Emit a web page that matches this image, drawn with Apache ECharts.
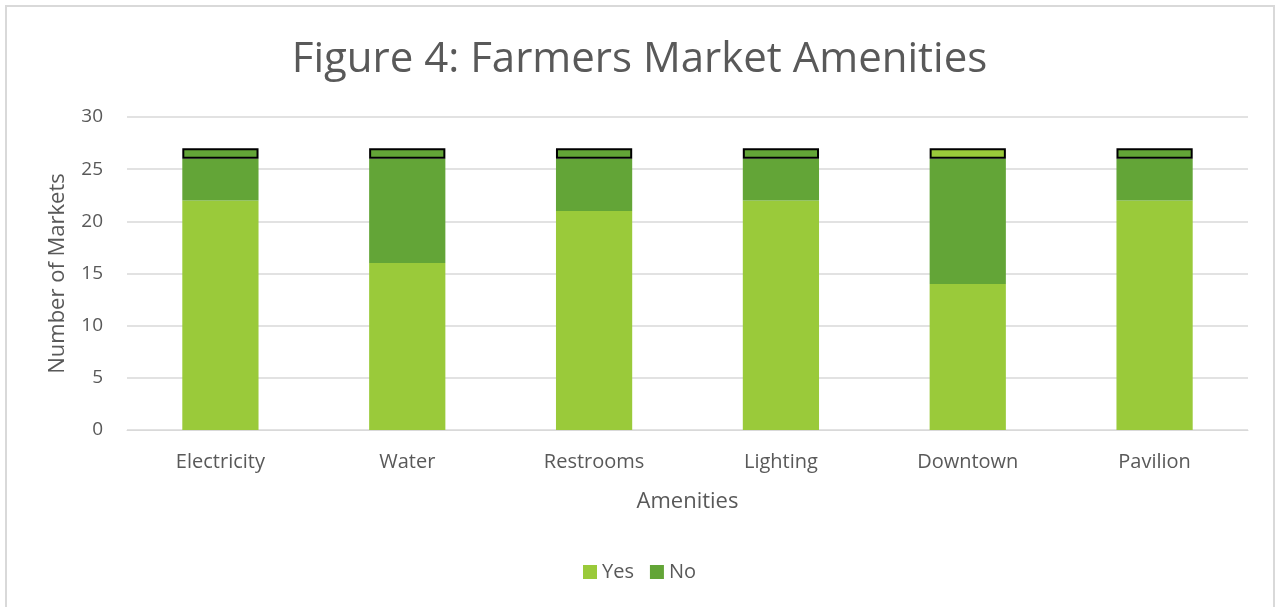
<!DOCTYPE html>
<html>
<head>
<meta charset="utf-8">
<script src="https://cdn.jsdelivr.net/npm/echarts@6/dist/echarts.min.js"></script>
<style>
  html, body { margin: 0; padding: 0; background: #fff; }
  #frame { position: absolute; left: 5px; top: 5px; width: 1270px; height: 620px;
           border: 2px solid #d9d9d9; box-sizing: border-box; }
  #chart { position: absolute; left: 0; top: 0; width: 1279px; height: 607px; }
</style>
</head>
<body>
<div id="frame"></div>
<div id="chart"></div>
<script>
// Amenity survey results (number of markets)
const categories = ['Electricity', 'Water', 'Restrooms', 'Lighting', 'Downtown', 'Pavilion'];
const yesValues = [22, 16, 21, 22, 14, 22];
const noValues = [4, 10, 5, 4, 12, 4];
// one outlined response per amenity on top of each stack
const topValues = [1, 1, 1, 1, 1, 1];
const topKinds = ['No', 'No', 'No', 'No', 'Yes', 'No'];
const yTicks = { min: 0, max: 30, interval: 5 };

const YES_COLOR = '#9aca3a';
const NO_COLOR = '#63a537';
const TEXT = '#595959';
const FONT = '"Open Sans", "Noto Sans", sans-serif';

const chart = echarts.init(document.getElementById('chart'), null, { renderer: 'canvas' });
chart.setOption({
  animation: false,
  textStyle: { fontFamily: FONT, color: TEXT },
  title: {
    text: 'Figure 4: Farmers Market Amenities',
    left: 'center', top: 34,
    textStyle: { fontFamily: FONT, fontSize: 42, fontWeight: 'normal', color: TEXT }
  },
  legend: {
    data: ['Yes', 'No'],
    bottom: 20, left: 'center',
    itemWidth: 14, itemHeight: 14, itemGap: 16,
    icon: 'rect',
    textStyle: { fontFamily: FONT, fontSize: 20, color: TEXT }
  },
  grid: { left: 127, right: 31, top: 117, bottom: 177 },
  xAxis: {
    type: 'category',
    data: categories,
    name: 'Amenities',
    nameLocation: 'middle',
    nameGap: 61,
    nameTextStyle: { fontFamily: FONT, fontSize: 22, color: TEXT },
    axisLine: { lineStyle: { color: '#d9d9d9', width: 1 } },
    axisTick: { show: false },
    axisLabel: { fontFamily: FONT, fontSize: 20, color: TEXT, margin: 22 }
  },
  yAxis: {
    type: 'value',
    min: yTicks.min, max: yTicks.max, interval: yTicks.interval,
    name: 'Number of Markets',
    nameLocation: 'middle',
    nameGap: 58,
    nameTextStyle: { fontFamily: FONT, fontSize: 22, color: TEXT },
    axisLine: { show: false },
    axisTick: { show: false },
    axisLabel: { fontFamily: FONT, fontSize: 19, color: TEXT, margin: 24 },
    splitLine: { lineStyle: { color: '#d9d9d9', width: 1.5 } }
  },
  series: [
    {
      name: 'Yes', type: 'bar', stack: 'total', barWidth: '40.8%',
      itemStyle: { color: YES_COLOR },
      data: yesValues
    },
    {
      name: 'No', type: 'bar', stack: 'total',
      itemStyle: { color: NO_COLOR },
      data: noValues
    },
    {
      name: 'Other', type: 'bar', stack: 'total',
      data: topValues.map((v, i) => ({
        value: v,
        itemStyle: {
          color: topKinds[i] === 'Yes' ? YES_COLOR : NO_COLOR,
          borderColor: '#000', borderWidth: 2
        }
      }))
    }
  ]
});
</script>
</body>
</html>
